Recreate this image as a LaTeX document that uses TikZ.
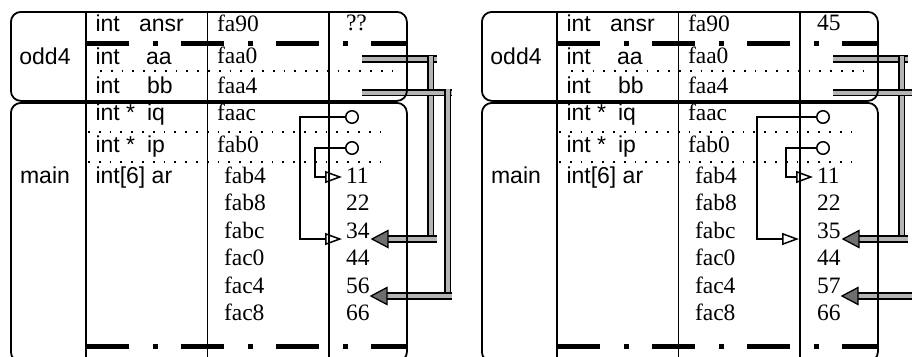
\documentclass[tikz,border=0pt]{standalone}
\usepackage{fontspec}
\setmainfont{Liberation Serif}
\setsansfont{Liberation Sans}
\usetikzlibrary{arrows.meta}
\definecolor{barfill}{HTML}{B4B4B4}
\definecolor{headfill}{HTML}{6E6E6E}
\tikzset{
  sanstext/.style={font=\sffamily\fontsize{23}{27}\selectfont, anchor=base west, inner sep=0pt, outer sep=0pt},
  sertext/.style={font=\rmfamily\fontsize{23.5}{27}\selectfont, anchor=base west, inner sep=0pt, outer sep=0pt},
  framelabel/.style={font=\sffamily\fontsize{23}{27}\selectfont, anchor=base, inner sep=0pt},
  framebox/.style={draw, line width=1.8pt, rounded corners=10pt, anchor=north west, inner sep=0pt},
  colline/.style={line width=1.8pt},
  thickdash/.style={line width=5pt, dash pattern=on 43pt off 24pt on 5pt off 23pt},
  dotline/.style={line width=1.7pt, dash pattern=on 1.7pt off 9.1pt},
  ptrline/.style={line width=1.5pt, -{Triangle[open, length=17pt, width=12pt]}},
  ptrcirc/.style={circle, draw, line width=1.5pt, minimum size=12.5pt, inner sep=0pt},
  graybar/.style={draw=black, line width=1.6pt, double=barfill, double distance=4pt},
  grayhead/.style={draw=black, fill=headfill, line width=1.3pt, line join=miter},
}

\newcommand\mempanel[7]{%
\begin{scope}[xshift=#2]
  % gray double arrows
  \coordinate (#1-a1s) at (362,59);
  \coordinate (#1-a1e) at (437,59);
  \coordinate (#1-a1vt) at (430.5,55.5);
  \coordinate (#1-a1vb) at (430.5,236);
  \coordinate (#1-a1r) at (437,239);
  \coordinate (#1-a1b) at (388,239);
  \coordinate (#1-a1t) at (372,239);
  \draw[graybar] (#1-a1s) -- (#1-a1e);
  \draw[graybar] (#1-a1vt) -- (#1-a1vb);
  \draw[graybar] (#1-a1b) -- (#1-a1r);
  \filldraw[grayhead, shift={(#1-a1t)}] (0,0) -- (16,-8.5) -- (16,8.5) -- cycle;
  \coordinate (#1-a2s) at (362,92.5);
  \coordinate (#1-a2e) at (452,92.5);
  \coordinate (#1-a2vt) at (447.5,89);
  \coordinate (#1-a2vb) at (447.5,293);
  \coordinate (#1-a2r) at (452,296);
  \coordinate (#1-a2b) at (387,296);
  \coordinate (#1-a2t) at (371,296);
  \draw[graybar] (#1-a2s) -- (#1-a2e);
  \draw[graybar] (#1-a2vt) -- (#1-a2vb);
  \draw[graybar] (#1-a2b) -- (#1-a2r);
  \filldraw[grayhead, shift={(#1-a2t)}] (0,0) -- (16,-8.5) -- (16,8.5) -- cycle;
  % frames
  \node[framebox, minimum width=396pt, minimum height=89pt] (#1-oddbox) at (10,11) {};
  \node[framebox, minimum width=396pt, minimum height=259pt] (#1-mainbox) at (10,102) {};
  % column lines
  \draw[colline] (86,11) -- (86,361);
  \draw[colline] (207.5,11) -- (207.5,361);
  \draw[colline] (329,11) -- (329,361);
  % separators
  \draw[thickdash] (86,43) -- (406,43);
  \draw[thickdash] (86,346.5) -- (406,346.5);
  \draw[dotline] (100,71) -- (402,71);
  \draw[dotline] (88,132) -- (385,132);
  \draw[dotline] (88,162) -- (385,162);
  % frame labels
  \node[framelabel] (#1-odd4) at (45,64) {odd4};
  \node[framelabel] (#1-main) at (45,183) {main};
  % odd4 rows
  \node[sanstext] (#1-t1) at (95.5,31) {int};
  \node[sanstext] (#1-n1) at (139,31) {ansr};
  \node[sertext] (#1-d1) at (217,31) {fa90};
  \node[sertext] (#1-v1) at (346,30) {#3};
  \node[sanstext] (#1-t2) at (95.5,64) {int};
  \node[sanstext] (#1-n2) at (146,64) {aa};
  \node[sertext] (#1-d2) at (217,63) {faa0};
  \node[sanstext] (#1-t3) at (95.5,93) {int};
  \node[sanstext] (#1-n3) at (147,93) {bb};
  \node[sertext] (#1-d3) at (217,93) {faa4};
  % main rows
  \node[sanstext] (#1-t4) at (95.5,120) {int *};
  \node[sanstext] (#1-n4) at (147,120) {iq};
  \node[sertext] (#1-d4) at (217,120) {faac};
  \node[sanstext] (#1-t5) at (95.5,152) {int *};
  \node[sanstext] (#1-n5) at (147,152) {ip};
  \node[sertext] (#1-d5) at (217,152) {fab0};
  \node[sanstext] (#1-t6) at (95.5,183) {int[6] ar};
  \node[sertext] (#1-d6) at (224,183) {fab4};
  \node[sertext] (#1-v6) at (346,183) {11};
  \node[sertext] (#1-d7) at (224,210) {fab8};
  \node[sertext] (#1-v7) at (346,210) {22};
  \node[sertext] (#1-d8) at (224,238) {fabc};
  \node[sertext] (#1-v8) at (346,238) {#4};
  \node[sertext] (#1-d9) at (224,265) {fac0};
  \node[sertext] (#1-v9) at (346,265) {44};
  \node[sertext] (#1-d10) at (224,293) {fac4};
  \node[sertext] (#1-v10) at (346,293) {#5};
  \node[sertext] (#1-d11) at (224,320) {fac8};
  \node[sertext] (#1-v11) at (346,320) {66};
  % pointers
  \node[ptrcirc] (#1-iqc) at (352,117) {};
  \node[ptrcirc] (#1-ipc) at (352,148) {};
  \coordinate (#1-iqb) at (#6,117);
  \coordinate (#1-iqt) at (#7,239);
  \coordinate (#1-ipb) at (315,148);
  \coordinate (#1-ipt) at (342,177);
  \draw[ptrline] (#1-iqc.west) -- (#1-iqb) |- (#1-iqt);
  \draw[ptrline] (#1-ipc.west) -- (#1-ipb) |- (#1-ipt);
\end{scope}}

\begin{document}
\begin{tikzpicture}[x=1pt, y=-1pt]
  \useasboundingbox (0,0) rectangle (912,356);
  \clip (0,0) rectangle (912,356);
  \fill[white] (0,0) rectangle (912,356);
  \mempanel{L}{0pt}{??}{34}{56}{300}{342}
  \mempanel{R}{471pt}{45}{35}{57}{286}{328}
\end{tikzpicture}
\end{document}
